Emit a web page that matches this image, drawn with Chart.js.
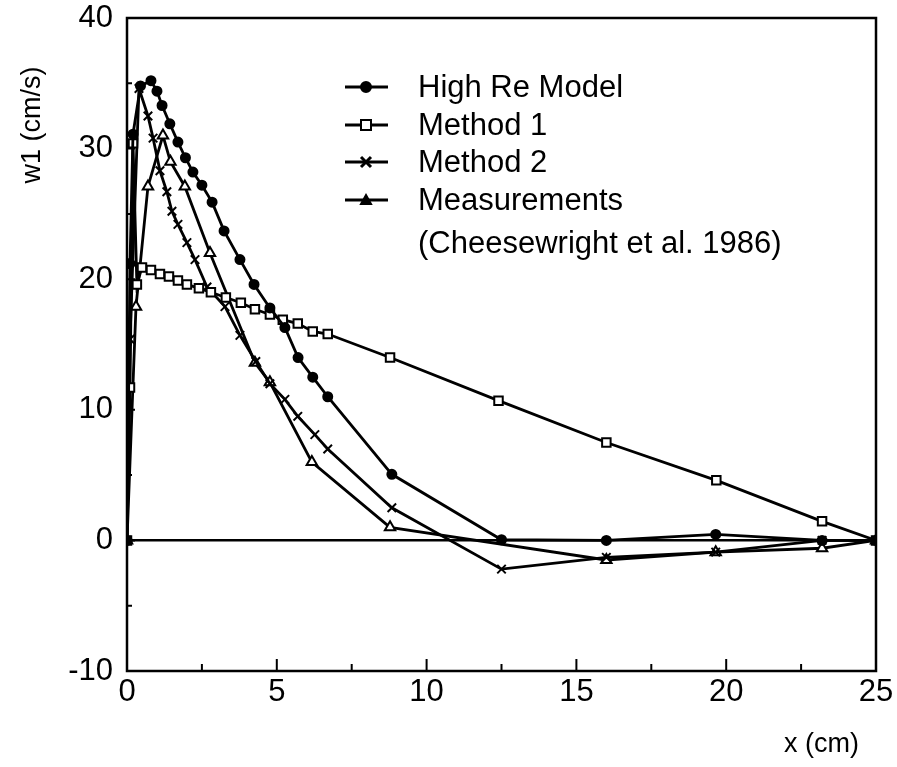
<!DOCTYPE html>
<html>
<head>
<meta charset="utf-8">
<script src="https://cdn.jsdelivr.net/npm/chart.js@4/dist/chart.umd.min.js"></script>
<style>
  html, body { margin: 0; padding: 0; background: #fff; }
  #wrap { width: 897px; height: 767px; }
</style>
</head>
<body>
<div id="wrap"><canvas id="chart1" width="897" height="767"></canvas></div>
<script>
// data
var highReX = [0, 0.1, 0.2, 0.45, 0.8, 1.0, 1.17, 1.43, 1.7, 1.95, 2.2, 2.5, 2.84, 3.24, 3.77, 4.24, 4.77, 5.27, 5.71, 6.2, 6.7, 8.84, 12.5, 16.0, 19.65, 23.2, 25];
var highReY = [0, 21.2, 31.1, 34.8, 35.2, 34.4, 33.3, 31.9, 30.5, 29.3, 28.2, 27.2, 25.9, 23.7, 21.5, 19.6, 17.8, 16.3, 14.0, 12.5, 11.0, 5.06, 0.05, 0.0, 0.46, 0.0, 0];

var method1X = [0, 0.1, 0.2, 0.33, 0.5, 0.8, 1.1, 1.4, 1.7, 2.0, 2.4, 2.8, 3.3, 3.8, 4.27, 4.77, 5.2, 5.7, 6.2, 6.7, 8.78, 12.4, 16.0, 19.67, 23.2, 25];
var method1Y = [0, 11.7, 30.4, 19.6, 20.9, 20.7, 20.4, 20.2, 19.9, 19.6, 19.3, 19.0, 18.6, 18.2, 17.7, 17.3, 16.9, 16.6, 16.0, 15.8, 14.0, 10.7, 7.5, 4.6, 1.46, 0];

var method2X = [0, 0.1, 0.4, 0.7, 0.87, 1.1, 1.33, 1.5, 1.7, 2.0, 2.27, 2.67, 3.27, 3.77, 4.3, 4.77, 5.27, 5.7, 6.27, 6.7, 8.84, 12.5, 16.0, 19.65, 23.2, 25];
var method2Y = [0, 15.4, 34.6, 32.5, 30.8, 28.3, 26.7, 25.2, 24.2, 22.8, 21.5, 19.4, 17.9, 15.7, 13.7, 12.0, 10.8, 9.5, 8.1, 7.0, 2.5, -2.2, -1.3, -0.9, 0.0, 0];

var measX = [0, 0.3, 0.7, 1.2, 1.45, 1.93, 2.77, 4.27, 4.77, 6.17, 8.78, 16.0, 19.65, 23.2, 25];
var measY = [0, 17.9, 27.1, 31.0, 29.0, 27.1, 22.0, 13.6, 12.1, 6.0, 1.0, -1.5, -0.9, -0.6, 0];

var seriesNames = ["High Re Model", "Method 1", "Method 2", "Measurements"];
var legendNote = "(Cheesewright et al. 1986)";
var xTitle = "x (cm)";
var yTitle = "w1 (cm/s)";

function pairs(xs, ys) {
    return xs.map(function (x, i) { return { x: x, y: ys[i] }; });
}

var FONT = "'Liberation Sans', Arial, Helvetica, sans-serif";

// draw one marker the way the datasets do (used for the legend)
function drawMarker(ctx, style, fill, r, x, y) {
    ctx.save();
    ctx.lineWidth = 2;
    ctx.strokeStyle = '#000';
    ctx.fillStyle = fill;
    ctx.beginPath();
    if (style === 'circle') {
        ctx.arc(x, y, r, 0, Math.PI * 2);
        ctx.fill(); ctx.stroke();
    } else if (style === 'rect') {
        ctx.rect(x - r, y - r, r * 2, r * 2);
        ctx.fill(); ctx.stroke();
    } else if (style === 'triangle') {
        ctx.moveTo(x, y - r);
        ctx.lineTo(x + r, y + r * 0.8);
        ctx.lineTo(x - r, y + r * 0.8);
        ctx.closePath();
        ctx.fill(); ctx.stroke();
    } else {
        ctx.lineWidth = 3;
        ctx.moveTo(x - r, y - r); ctx.lineTo(x + r, y + r);
        ctx.moveTo(x + r, y - r); ctx.lineTo(x - r, y + r);
        ctx.stroke();
    }
    ctx.restore();
}

var framePlugin = {
    id: 'frame',
    afterDraw: function (chart) {
        var ctx = chart.ctx;
        var a = chart.chartArea;
        var xs = chart.scales.x, ys = chart.scales.y;
        ctx.save();
        ctx.strokeStyle = '#000';
        ctx.lineWidth = 2.5;
        ctx.strokeRect(a.left, a.top, a.right - a.left, a.bottom - a.top);

        // inward ticks
        ctx.lineWidth = 2;
        ctx.beginPath();
        for (var v = 2.5; v < 25; v += 2.5) {
            var px = xs.getPixelForValue(v);
            var len = (v % 5 === 0) ? 12 : 7;
            ctx.moveTo(px, a.bottom);
            ctx.lineTo(px, a.bottom - len);
        }
        for (var w = -5; w < 40; w += 5) {
            var py = ys.getPixelForValue(w);
            var len2 = (w % 10 === 0) ? 8 : 5;
            ctx.moveTo(a.left, py);
            ctx.lineTo(a.left + len2, py);
        }
        ctx.stroke();

        // axis titles
        ctx.fillStyle = '#000';
        ctx.font = '27px ' + FONT;
        ctx.textAlign = 'right';
        ctx.textBaseline = 'middle';
        ctx.fillText(xTitle, 859, 745);
        ctx.save();
        ctx.translate(33, 125);
        ctx.rotate(-Math.PI / 2);
        ctx.textAlign = 'center';
        ctx.fillText(yTitle, 0, 0);
        ctx.restore();

        // legend inside the plot
        var rows = [87, 125, 162, 200];
        ctx.font = '31px ' + FONT;
        ctx.textAlign = 'left';
        chart.data.datasets.forEach(function (ds, i) {
            var ry = rows[i];
            ctx.beginPath();
            ctx.lineWidth = 3;
            ctx.moveTo(345, ry);
            ctx.lineTo(388, ry);
            ctx.stroke();
            drawMarker(ctx, ds.pointStyle, ds.legendFill, 5, 366, ry);
            ctx.fillText(ds.label, 418, ry + 1);
        });
        ctx.fillText(legendNote, 418, 244);
        ctx.restore();
    }
};

var ctxChart1 = document.getElementById('chart1').getContext('2d');
var chart1 = new Chart(ctxChart1, {
    type: 'scatter',
    plugins: [framePlugin],
    data: {
        datasets: [{
            label: seriesNames[0],
            data: pairs(highReX, highReY),
            pointStyle: 'circle',
            legendFill: '#000',
            borderColor: '#000',
            pointBorderColor: '#000',
            pointBackgroundColor: '#000',
            pointRadius: 4.5
        }, {
            label: seriesNames[1],
            data: pairs(method1X, method1Y),
            pointStyle: 'rect',
            legendFill: '#fff',
            borderColor: '#000',
            pointBorderColor: '#000',
            pointBackgroundColor: '#fff',
            pointRadius: 6
        }, {
            label: seriesNames[2],
            data: pairs(method2X, method2Y),
            pointStyle: 'crossRot',
            legendFill: '#000',
            borderColor: '#000',
            pointBorderColor: '#000',
            pointBackgroundColor: '#000',
            pointRadius: 6
        }, {
            label: seriesNames[3],
            data: pairs(measX, measY),
            pointStyle: 'triangle',
            legendFill: '#000',
            borderColor: '#000',
            pointBorderColor: '#000',
            pointBackgroundColor: '#fff',
            pointRadius: 6
        }]
    },
    options: {
        responsive: false,
        animation: false,
        layout: { padding: { top: 18, right: 21, left: 0, bottom: 0 } },
        datasets: {
            scatter: {
                showLine: true,
                borderWidth: 2.8,
                pointBorderWidth: 2,
                tension: 0
            }
        },
        plugins: {
            legend: { display: false },
            title: { display: false },
            tooltip: { enabled: false }
        },
        scales: {
            x: {
                type: 'linear',
                min: 0,
                max: 25,
                afterFit: function (scale) {
                    scale.height = 96;
                    scale.paddingLeft = 0;
                    scale.paddingRight = 0;
                },
                ticks: { stepSize: 5, color: '#000', padding: 3, font: { size: 31, family: FONT } },
                grid: { drawOnChartArea: false, drawTicks: false },
                border: { display: false }
            },
            y: {
                min: -10,
                max: 40,
                afterFit: function (scale) {
                    scale.width = 127;
                    scale.paddingTop = 0;
                    scale.paddingBottom = 0;
                },
                ticks: { stepSize: 10, color: '#000', padding: 14, font: { size: 31, family: FONT } },
                grid: {
                    drawTicks: false,
                    lineWidth: 2.5,
                    color: function (c) { return c.tick && c.tick.value === 0 ? '#000' : 'rgba(0,0,0,0)'; }
                },
                border: { display: false }
            }
        }
    }
});
</script>
</body>
</html>
